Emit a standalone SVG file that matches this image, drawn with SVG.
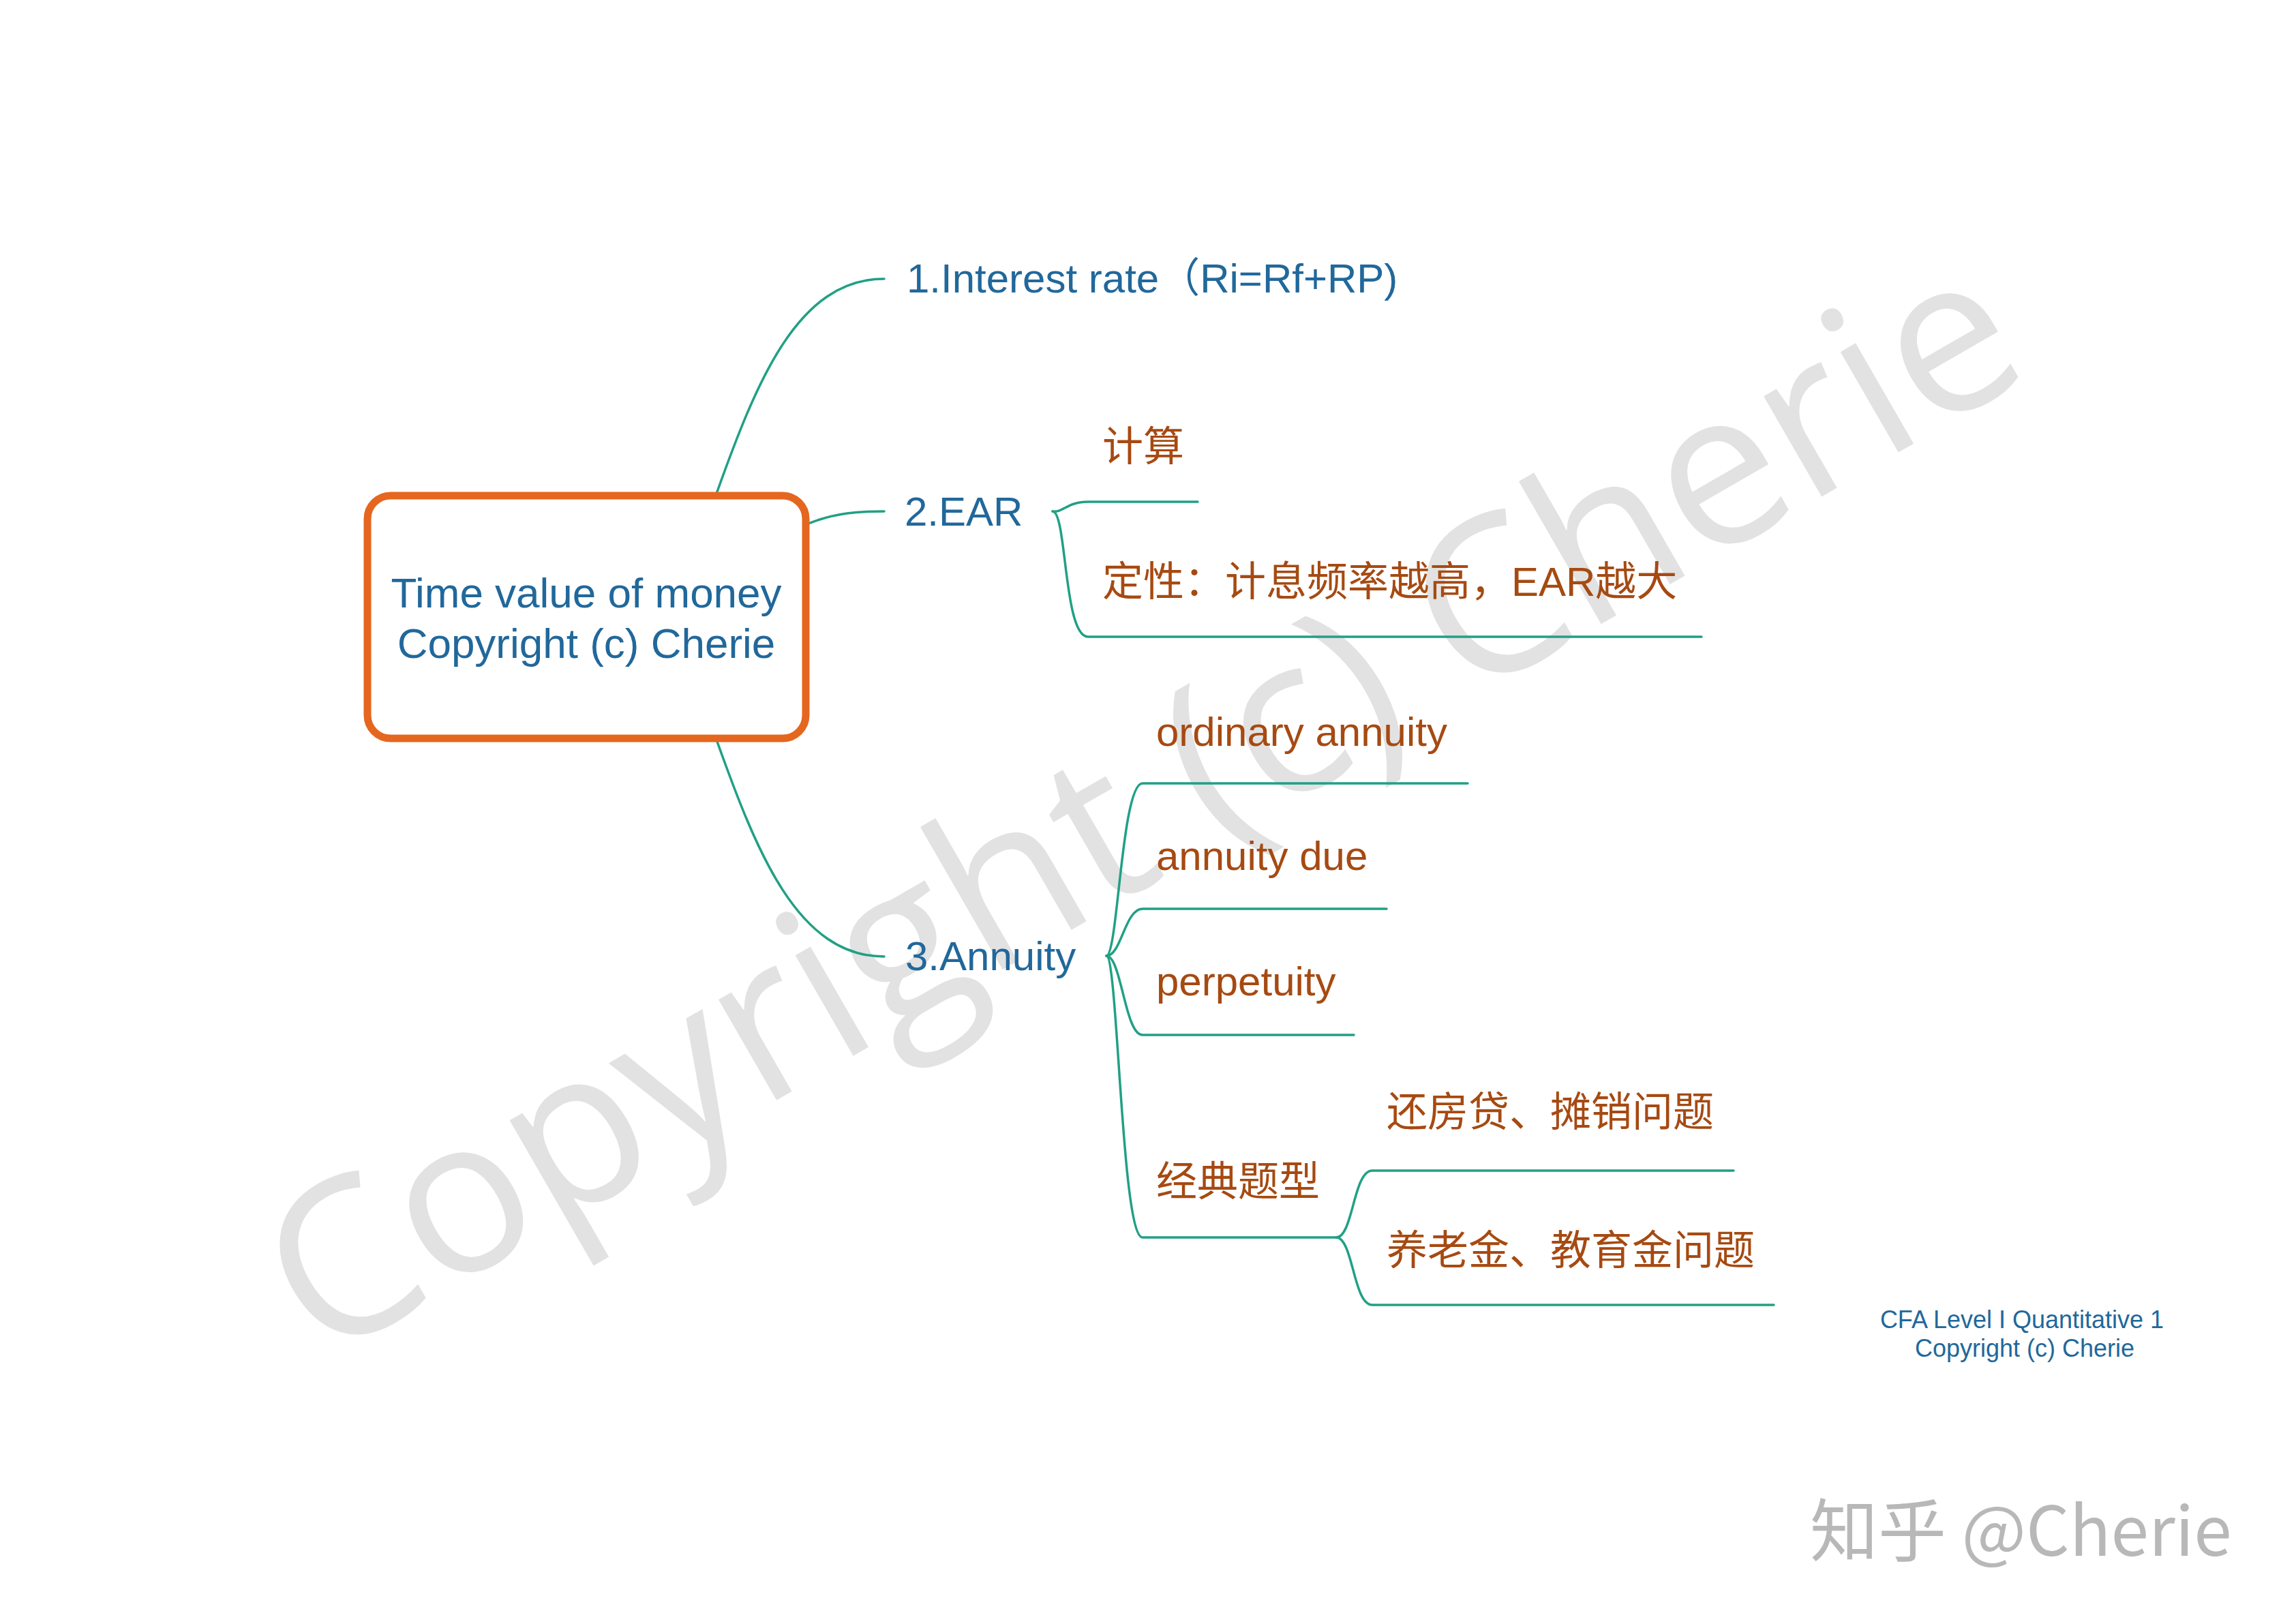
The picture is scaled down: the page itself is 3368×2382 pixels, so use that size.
<svg xmlns="http://www.w3.org/2000/svg" width="3368" height="2382" viewBox="0 0 3368 2382">
<style>
  .wm { font-family: "Open Sans", "Noto Sans", sans-serif; font-size: 318px; fill: #E2E2E2; }
  .lbl1 { font-family: "Liberation Sans", "Noto Sans CJK SC", sans-serif; font-size: 60px; fill: #21689B; }
  .root { font-size: 62px; }
  .lbl2 { font-family: "Liberation Sans", "Noto Sans CJK SC", sans-serif; font-size: 60px; fill: #A64A12; }
  .conn { fill: none; stroke: #21A085; stroke-width: 3.5; stroke-linecap: round; }
  .foot { font-family: "Liberation Sans", sans-serif; font-size: 36px; fill: #21689B; text-anchor: middle; }
  .zh { font-family: "Noto Sans CJK SC", "Noto Sans", sans-serif; font-size: 100px; fill: #B8B8B8; }
</style>
<rect width="3368" height="2382" fill="#FFFFFF"/>
<text class="wm" transform="translate(470,2000) rotate(-30)">Copyright (c) Cherie</text>

<g id="connectors">
  <path class="conn" d="M1051,724 C1110,559 1170,409 1297,409"/>
  <path class="conn" d="M1186,768 C1225,752 1260,750 1297,750"/>
  <path class="conn" d="M1051,1085 C1110,1250 1170,1403 1297,1403"/>
  <path class="conn" d="M1544,750 C1560,752 1565,736 1596,736 H1757"/>
  <path class="conn" d="M1544,750 C1565,750 1560,934 1596,934 H2496"/>
  <path class="conn" d="M1623,1402 C1640,1402 1645,1149 1676,1149 H2153"/>
  <path class="conn" d="M1623,1402 C1645,1402 1650,1333 1676,1333 H2034"/>
  <path class="conn" d="M1623,1402 C1645,1402 1650,1518 1676,1518 H1986"/>
  <path class="conn" d="M1623,1402 C1640,1402 1645,1815 1676,1815 H1960"/>
  <path class="conn" d="M1960,1815 C1985,1815 1985,1717 2013,1717 H2543"/>
  <path class="conn" d="M1960,1815 C1985,1815 1985,1914 2013,1914 H2602"/>
</g>

<g id="root">
  <rect x="539" y="727" width="643" height="356" rx="34" ry="34" fill="#FFFFFF" stroke="#E5661F" stroke-width="11"/>
  <text class="lbl1 root" x="860" y="891" text-anchor="middle">Time value of money</text>
  <text class="lbl1 root" x="860" y="965" text-anchor="middle">Copyright (c) Cherie</text>
</g>
<g id="n-interest"><text class="lbl1" x="1330" y="429">1.Interest rate（Ri=Rf+RP)</text></g>
<g id="n-ear"><text class="lbl1" x="1327" y="771">2.EAR</text></g>
<g id="n-annuity"><text class="lbl1" x="1328" y="1423">3.Annuity</text></g>
<g id="n-calc"><text class="lbl2" x="1617" y="676">计算</text></g>
<g id="n-qual"><text class="lbl2" x="1617" y="874">定性：计息频率越高，EAR越大</text></g>
<g id="n-ordinary"><text class="lbl2" x="1696" y="1094">ordinary annuity</text></g>
<g id="n-due"><text class="lbl2" x="1696" y="1276">annuity due</text></g>
<g id="n-perp"><text class="lbl2" x="1696" y="1460">perpetuity</text></g>
<g id="n-classic"><text class="lbl2" x="1696" y="1754">经典题型</text></g>
<g id="n-mortgage"><text class="lbl2" x="2034" y="1652">还房贷、摊销问题</text></g>
<g id="n-pension"><text class="lbl2" x="2034" y="1855">养老金、教育金问题</text></g>

<g id="footer">
  <text class="foot" x="2966" y="1948">CFA Level I Quantitative 1</text>
  <text class="foot" x="2970" y="1990">Copyright (c) Cherie</text>
</g>
<text class="zh" x="2655" y="2282">知乎 @Cherie</text>
</svg>
